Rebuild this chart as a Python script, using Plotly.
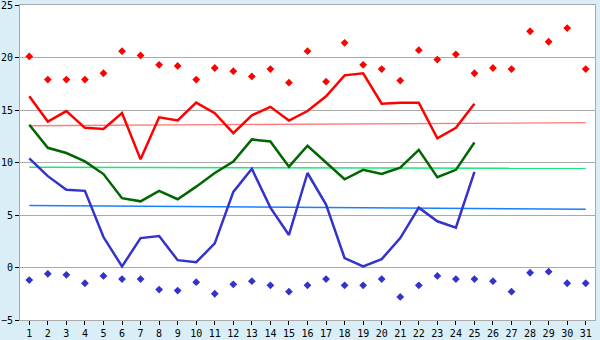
import plotly.graph_objects as go

days = list(range(1, 32))
days_obs = list(range(1, 26))

max_points = [20.1, 17.9, 17.9, 17.9, 18.5, 20.6, 20.2, 19.3, 19.2, 17.9,
              19.0, 18.7, 18.2, 18.9, 17.6, 20.6, 17.7, 21.4, 19.3, 18.9,
              17.8, 20.7, 19.8, 20.3, 18.5, 19.0, 18.9, 22.5, 21.5, 22.8, 18.9]
min_points = [-1.2, -0.6, -0.7, -1.5, -0.8, -1.1, -1.1, -2.1, -2.2, -1.4,
              -2.5, -1.6, -1.3, -1.7, -2.3, -1.7, -1.1, -1.7, -1.7, -1.1,
              -2.8, -1.7, -0.8, -1.1, -1.1, -1.3, -2.3, -0.5, -0.4, -1.5, -1.5]
max_line = [16.3, 13.9, 14.9, 13.3, 13.2, 14.7, 10.3, 14.3, 14.0, 15.7,
            14.7, 12.8, 14.5, 15.3, 14.0, 14.9, 16.3, 18.3, 18.5, 15.6,
            15.7, 15.7, 12.3, 13.3, 15.6]
mean_line = [13.6, 11.4, 10.9, 10.1, 8.9, 6.6, 6.3, 7.3, 6.5, 7.7,
             9.0, 10.1, 12.2, 12.0, 9.6, 11.6, 10.0, 8.4, 9.3, 8.9,
             9.5, 11.2, 8.6, 9.3, 11.9]
min_line = [10.4, 8.7, 7.4, 7.3, 2.9, 0.1, 2.8, 3.0, 0.7, 0.5,
            2.3, 7.2, 9.4, 5.7, 3.1, 9.0, 6.0, 0.9, 0.1, 0.8,
            2.8, 5.7, 4.4, 3.8, 9.1]
normal_x = [1, 31]
normal_max = [13.5, 13.8]
normal_mean = [9.55, 9.45]
normal_min = [5.9, 5.55]

y_ticks = [-5, 0, 5, 10, 15, 20, 25]

fig = go.Figure()
fig.add_trace(go.Scatter(x=normal_x, y=normal_max, mode="lines",
                         line=dict(color="#ff7b7b", width=1.3)))
fig.add_trace(go.Scatter(x=normal_x, y=normal_mean, mode="lines",
                         line=dict(color="#19e87a", width=1.5)))
fig.add_trace(go.Scatter(x=normal_x, y=normal_min, mode="lines",
                         line=dict(color="#1a7fff", width=1.5)))
fig.add_trace(go.Scatter(x=days_obs, y=max_line, mode="lines",
                         line=dict(color="#ff0000", width=2.5)))
fig.add_trace(go.Scatter(x=days_obs, y=mean_line, mode="lines",
                         line=dict(color="#006600", width=2.5)))
fig.add_trace(go.Scatter(x=days_obs, y=min_line, mode="lines",
                         line=dict(color="#3333cc", width=2.5)))
fig.add_trace(go.Scatter(x=days, y=max_points, mode="markers",
                         marker=dict(symbol="diamond", size=6, color="#ff0000")))
fig.add_trace(go.Scatter(x=days, y=min_points, mode="markers",
                         marker=dict(symbol="diamond", size=6, color="#3333cc")))

fig.update_layout(
    width=600, height=340,
    margin=dict(l=20, r=5, t=5, b=20, autoexpand=False),
    paper_bgcolor="#d9eef6",
    plot_bgcolor="#ffffff",
    showlegend=False,
    font=dict(family="DejaVu Sans Mono", size=10, color="#000000"),
)
fig.update_xaxes(
    range=[0.5, 31.5], tickmode="array", tickvals=days,
    ticks="outside", ticklen=4, tickcolor="#000000",
    showgrid=False, showline=True, linecolor="#aaaaaa", linewidth=1,
    mirror=True, zeroline=False, automargin=False,
    ticklabeloverflow="allow", ticklabelstandoff=0,
)
fig.update_yaxes(
    range=[-5, 25], tickmode="array", tickvals=y_ticks,
    ticks="outside", ticklen=4, tickcolor="#000000",
    showgrid=True, gridcolor="#aaaaaa", gridwidth=1,
    showline=True, linecolor="#aaaaaa", linewidth=1, mirror=True,
    zeroline=False, automargin=False, ticklabeloverflow="allow",
)

fig.write_html("out.html")
